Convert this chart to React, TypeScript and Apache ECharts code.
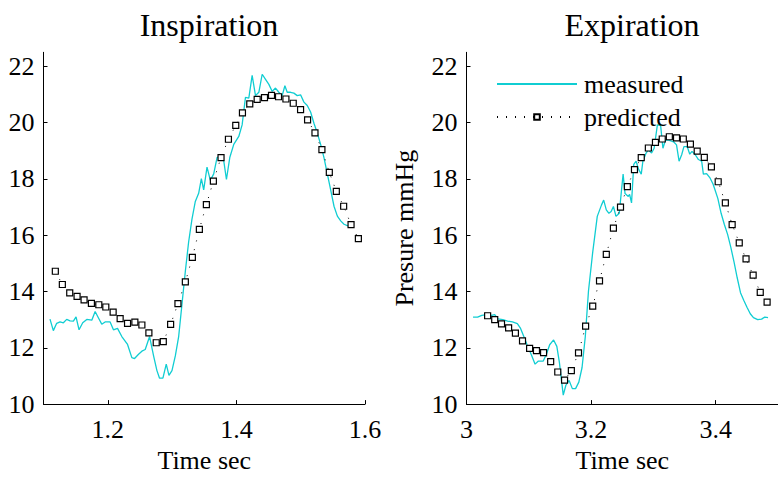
import React, { useEffect, useRef } from "react";
import * as echarts from "echarts";

const FONT = "Liberation Serif";

const titles = ["Inspiration", "Expiration"];
const xAxisName = "Time sec";
const yAxisName = "Presure mmHg";
const legendNames = ["measured", "predicted"];

const yTicks = [10, 12, 14, 16, 18, 20, 22];
const xTicksInsp = [1.2, 1.4, 1.6];
const xTicksExp = [3, 3.2, 3.4];

// Inspiration – measured
const inspMeasured: [number, number][] = [
  [1.1101, 13.02], [1.1153, 12.61], [1.1205, 12.87], [1.1257, 12.92], [1.1309, 12.89],
  [1.1361, 13.01], [1.1413, 12.96], [1.1465, 12.95], [1.1506, 13.1], [1.1553, 12.64],
  [1.161, 12.89], [1.1673, 13.01], [1.1751, 12.98], [1.1803, 13.29], [1.1855, 13.06],
  [1.1906, 12.84], [1.1958, 12.92], [1.2036, 12.92], [1.2088, 12.64], [1.2151, 12.69],
  [1.2218, 12.4], [1.2307, 12.12], [1.2374, 11.65], [1.2416, 11.62], [1.2478, 11.77],
  [1.253, 11.88], [1.2582, 11.94], [1.265, 12.4], [1.2712, 11.71], [1.2764, 11.19],
  [1.2805, 10.92], [1.2857, 10.92], [1.2909, 11.42], [1.2951, 11.02], [1.2998, 11.19],
  [1.305, 11.71], [1.3102, 12.4], [1.3154, 13.56], [1.3206, 14.72], [1.3257, 15.76],
  [1.3309, 16.57], [1.3361, 17.2], [1.3413, 17.49], [1.3455, 18.01], [1.3491, 17.61],
  [1.3543, 18.42], [1.3595, 17.95], [1.3647, 18.18], [1.3699, 18.76], [1.3751, 18.82],
  [1.3803, 18.65], [1.3845, 17.98], [1.3897, 18.76], [1.3959, 19.23], [1.4037, 19.51],
  [1.4089, 19.92], [1.4141, 20.9], [1.4193, 20.87], [1.4245, 21.68], [1.4297, 20.96],
  [1.4349, 21.08], [1.4401, 21.72], [1.4453, 21.54], [1.4505, 21.36], [1.4557, 21.11],
  [1.4608, 21.23], [1.466, 21.08], [1.4712, 20.96], [1.4754, 21.31], [1.479, 21.08],
  [1.4842, 21.08], [1.4894, 21.05], [1.4946, 20.96], [1.4998, 20.99], [1.505, 20.73],
  [1.5102, 20.61], [1.5154, 20.38], [1.5206, 19.98], [1.5258, 19.63], [1.531, 19.23],
  [1.5362, 18.76], [1.5414, 18.18], [1.5466, 17.61], [1.5518, 17.03], [1.557, 16.68],
  [1.5622, 16.51], [1.5674, 16.39], [1.5725, 16.34], [1.5777, 16.34], [1.5829, 16.32],
];

// Inspiration – predicted
const inspPredicted: [number, number][] = [
  [1.1184, 14.72], [1.1293, 14.25], [1.1408, 13.95], [1.1522, 13.83], [1.1631, 13.7],
  [1.1745, 13.58], [1.186, 13.53], [1.1969, 13.45], [1.2083, 13.27], [1.2192, 13.04],
  [1.2307, 12.87], [1.2421, 12.91], [1.253, 12.81], [1.2639, 12.53], [1.2753, 12.18],
  [1.2863, 12.22], [1.2977, 12.83], [1.3091, 13.57], [1.3206, 14.34], [1.3315, 15.21],
  [1.3424, 16.21], [1.3533, 17.09], [1.3642, 17.92], [1.3761, 18.76], [1.3876, 19.41],
  [1.399, 19.9], [1.4094, 20.35], [1.4208, 20.67], [1.4323, 20.83], [1.4437, 20.89],
  [1.4546, 20.97], [1.4655, 20.92], [1.477, 20.84], [1.4884, 20.69], [1.4998, 20.46],
  [1.5107, 20.1], [1.5222, 19.64], [1.533, 19.04], [1.5445, 18.23], [1.5554, 17.56],
  [1.5668, 17.03], [1.5783, 16.38], [1.5897, 15.88],
];

// Expiration – measured
const expMeasured: [number, number][] = [
  [3.0105, 13.09], [3.0178, 13.09], [3.0245, 13.15], [3.0323, 13.18], [3.0401, 13.15],
  [3.0453, 13.18], [3.0505, 13.03], [3.0583, 13.0], [3.066, 12.95], [3.0738, 12.92],
  [3.0816, 12.86], [3.0868, 12.69], [3.092, 12.4], [3.0972, 12.11], [3.1049, 11.71],
  [3.1101, 11.42], [3.1154, 11.53], [3.1232, 11.53], [3.1283, 11.77], [3.1335, 12.11],
  [3.1398, 12.28], [3.145, 12.05], [3.1491, 11.48], [3.1553, 10.32], [3.1595, 10.67],
  [3.1647, 10.84], [3.1699, 10.55], [3.1751, 10.55], [3.1803, 10.78], [3.1855, 11.3],
  [3.1907, 12.4], [3.1958, 14.02], [3.2026, 15.4], [3.2099, 16.67], [3.2166, 17.07],
  [3.2202, 17.25], [3.2244, 16.9], [3.2286, 16.78], [3.2322, 16.84], [3.2358, 17.02],
  [3.24, 16.67], [3.2452, 16.78], [3.2493, 17.71], [3.2514, 18.17], [3.2545, 17.48],
  [3.2597, 17.38], [3.2618, 17.45], [3.2649, 17.15], [3.2685, 18.52], [3.2722, 18.63],
  [3.2763, 18.34], [3.2805, 18.17], [3.2831, 18.63], [3.2883, 18.92], [3.2919, 19.03],
  [3.2971, 18.92], [3.3012, 19.09], [3.3064, 19.92], [3.3116, 19.9], [3.3153, 19.09],
  [3.3194, 19.38], [3.3241, 19.38], [3.3282, 19.35], [3.3324, 19.32], [3.3371, 19.21],
  [3.3412, 18.63], [3.3454, 18.86], [3.349, 19.15], [3.3542, 19.15], [3.3584, 18.88],
  [3.362, 18.98], [3.3672, 18.86], [3.3723, 18.69], [3.3775, 18.63], [3.3802, 18.17],
  [3.3854, 18.19], [3.3905, 18.05], [3.3957, 17.82], [3.3983, 17.65], [3.4035, 17.3],
  [3.4087, 16.78], [3.4139, 16.38], [3.4191, 16.03], [3.4243, 15.57], [3.4294, 15.05],
  [3.4346, 14.48], [3.4398, 13.96], [3.445, 13.69], [3.4502, 13.44], [3.4555, 13.21],
  [3.4606, 13.07], [3.4674, 13.0], [3.4736, 13.02], [3.4788, 13.09], [3.484, 13.07],
];

// Expiration – predicted
const expPredicted: [number, number][] = [
  [3.0339, 13.14], [3.0453, 13.0], [3.0562, 12.85], [3.0676, 12.71], [3.0785, 12.52],
  [3.0899, 12.25], [3.1013, 11.98], [3.1123, 11.9], [3.1237, 11.83], [3.1351, 11.51],
  [3.1465, 11.14], [3.1574, 10.85], [3.1683, 11.19], [3.1798, 11.82], [3.1912, 12.77],
  [3.2026, 13.48], [3.2135, 14.38], [3.2244, 15.32], [3.2358, 16.25], [3.2472, 17.0],
  [3.2582, 17.73], [3.2696, 18.33], [3.2805, 18.76], [3.2919, 19.1], [3.3033, 19.3],
  [3.3142, 19.42], [3.3256, 19.5], [3.3371, 19.46], [3.348, 19.42], [3.3594, 19.24],
  [3.3703, 18.99], [3.3817, 18.77], [3.3931, 18.43], [3.404, 17.9], [3.4155, 17.15],
  [3.4264, 16.38], [3.4378, 15.73], [3.4487, 15.16], [3.4601, 14.58], [3.4715, 13.97],
  [3.4825, 13.62],
];

const CYAN = "#10cdd2";

export default function App() {
  const ref = useRef<HTMLDivElement>(null);

  useEffect(() => {
    if (!ref.current) return;
    const chart = echarts.init(ref.current, undefined, { renderer: "svg" });

    const textBase = { fontFamily: FONT, color: "#000" };

    const makeX = (gridIndex: number, min: number, max: number, ticks: number[]) => ({
      type: "value",
      gridIndex,
      min,
      max,
      name: xAxisName,
      nameLocation: "middle",
      nameGap: 41,
      nameTextStyle: { ...textBase, fontSize: 26 },
      splitLine: { show: false },
      axisLine: { show: true, onZero: false, lineStyle: { color: "#000", width: 1 } },
      axisTick: { show: true, inside: true, length: 4, customValues: ticks, lineStyle: { color: "#000" } },
      axisLabel: { ...textBase, fontSize: 26, margin: 12, customValues: ticks },
    });

    const makeY = (gridIndex: number, withName: boolean) => ({
      type: "value",
      gridIndex,
      min: 10,
      max: 22.5,
      name: withName ? yAxisName : "",
      nameLocation: "middle",
      nameGap: 49,
      nameTextStyle: { ...textBase, fontSize: 26 },
      splitLine: { show: false },
      axisLine: { show: true, onZero: false, lineStyle: { color: "#000", width: 1 } },
      axisTick: { show: true, inside: true, length: 4, customValues: yTicks, lineStyle: { color: "#000" } },
      axisLabel: { ...textBase, fontSize: 26, margin: 9, customValues: yTicks },
    });

    const measuredSeries = (idx: number, data: [number, number][]) => ({
      name: legendNames[0],
      type: "line",
      xAxisIndex: idx,
      yAxisIndex: idx,
      data,
      showSymbol: false,
      symbol: "none",
      lineStyle: { color: CYAN, width: 1.3 },
      itemStyle: { color: CYAN },
      z: 2,
    });

    const predictedSeries = (idx: number, data: [number, number][]) => ({
      name: legendNames[1],
      type: "line",
      xAxisIndex: idx,
      yAxisIndex: idx,
      data,
      symbol: "rect",
      symbolSize: 6,
      showSymbol: true,
      lineStyle: { color: "#000", width: 1, type: [1, 8] },
      itemStyle: { color: "#fff", borderColor: "#000", borderWidth: 1.2 },
      z: 3,
    });

    chart.setOption({
      animation: false,
      backgroundColor: "#fff",
      title: [
        { text: titles[0], left: 204, top: 4, textAlign: "center", textStyle: { ...textBase, fontSize: 32, fontWeight: "normal" } },
        { text: titles[1], left: 627, top: 4, textAlign: "center", textStyle: { ...textBase, fontSize: 32, fontWeight: "normal" } },
      ],
      legend: {
        data: [
          { name: legendNames[0], itemStyle: { opacity: 0 } },
          { name: legendNames[1] },
        ],
        orient: "vertical",
        left: 496,
        top: 71,
        padding: 0,
        itemWidth: 80,
        itemHeight: 7,
        itemGap: 7,
        textStyle: { ...textBase, fontSize: 26, lineHeight: 26, padding: [0, 0, 0, 2] },
      },
      grid: [
        { left: 43.5, top: 52.3, width: 321.5, height: 360.4 },
        { left: 466.5, top: 52.3, width: 321, height: 360.4 },
      ],
      xAxis: [makeX(0, 1.1, 1.6, xTicksInsp), makeX(1, 3, 3.5, xTicksExp)],
      yAxis: [makeY(0, false), makeY(1, true)],
      series: [
        measuredSeries(0, inspMeasured),
        predictedSeries(0, inspPredicted),
        measuredSeries(1, expMeasured),
        predictedSeries(1, expPredicted),
      ],
    });

    return () => chart.dispose();
  }, []);

  return (
    <div
      ref={ref}
      style={{ position: "fixed", left: 0, top: 0, width: 778, height: 478, background: "#fff" }}
    />
  );
}
